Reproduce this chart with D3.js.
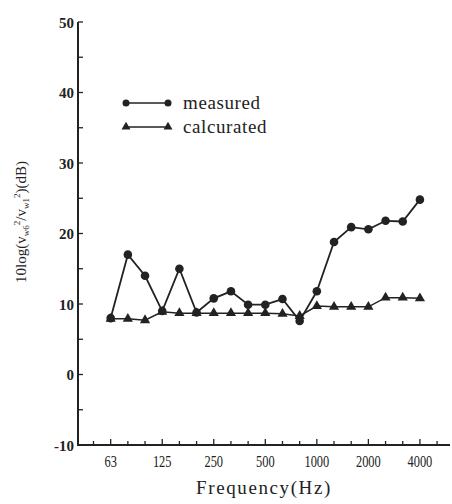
<!DOCTYPE html>
<html>
<head>
<meta charset="utf-8">
<script src="https://cdn.jsdelivr.net/npm/d3@7"></script>
<style>
  body { margin: 0; background: #fff; }
  text { font-family: "Liberation Serif", "DejaVu Serif", serif; fill: #222; }
</style>
</head>
<body>
<div id="chart"></div>
<script>
// third-octave bands shown on the axis
const bands = ["50", "63", "80", "100", "125", "160", "200", "250", "315", "400", "500",
  "630", "800", "1000", "1250", "1600", "2000", "2500", "3150", "4000", "5000"];
const tickLabels = ["63", "125", "250", "500", "1000", "2000", "4000"];
const pointBands = bands.slice(1, 20);
const measured = [8, 17, 14, 9, 15, 8.8, 10.8, 11.8, 9.9, 9.9, 10.7, 7.6, 11.8, 18.8, 20.9, 20.6, 21.8, 21.7, 24.8];
const calculated = [7.9, 7.9, 7.7, 8.9, 8.7, 8.7, 8.7, 8.7, 8.7, 8.7, 8.6, 8.3, 9.7, 9.6, 9.6, 9.6, 10.9, 10.9, 10.8];
const yTicks = [-10, 0, 10, 20, 30, 40, 50];
const legendNames = ["measured", "calcurated"];

const width = 452, height = 504;
const ink = "#222";

const svg = d3.select("#chart").append("svg")
    .attr("width", width)
    .attr("height", height);

const x = d3.scalePoint().domain(bands).range([93.5, 437.1]);
const y = d3.scaleLinear().domain([-10, 50]).range([445, 22]);
const x0 = 78;

// axes lines
svg.append("line").attr("x1", x0).attr("x2", x0).attr("y1", y(50)).attr("y2", y(-10) + 1)
    .attr("stroke", ink).attr("stroke-width", 2);
svg.append("line").attr("x1", x0 - 1).attr("x2", 450).attr("y1", y(-10)).attr("y2", y(-10))
    .attr("stroke", ink).attr("stroke-width", 2);

// y ticks every 5, labels every 10
svg.selectAll(".ytick").data(d3.range(-5, 51, 5)).join("line")
    .attr("x1", x0).attr("x2", x0 + 5)
    .attr("y1", d => y(d)).attr("y2", d => y(d))
    .attr("stroke", ink).attr("stroke-width", 1.3);
svg.selectAll(".ylab").data(yTicks).join("text")
    .attr("x", 74).attr("y", d => y(d) + 5.5)
    .attr("text-anchor", "end")
    .style("font-size", "15px").style("font-weight", "bold")
    .text(d => d);

// x ticks at every band, taller at labelled ones
svg.selectAll(".xtick").data(bands).join("line")
    .attr("x1", d => x(d)).attr("x2", d => x(d))
    .attr("y1", y(-10)).attr("y2", d => y(-10) - (tickLabels.includes(d) ? 6 : 4))
    .attr("stroke", ink).attr("stroke-width", 1.3);
svg.selectAll(".xlab").data(tickLabels).join("text")
    .attr("x", d => x(d) - d.length * 3.1).attr("y", 467)
    .attr("textLength", d => d.length * 6.2)
    .attr("lengthAdjust", "spacingAndGlyphs")
    .style("font-size", "16px")
    .text(d => d);

// axis titles
svg.append("text")
    .attr("x", 264).attr("y", 494)
    .attr("text-anchor", "middle")
    .style("font-size", "19px")
    .style("letter-spacing", "1.6px")
    .text("Frequency(Hz)");

const yt = svg.append("text")
    .attr("transform", "translate(26,222) rotate(-90)")
    .attr("text-anchor", "middle")
    .style("font-size", "15px");
yt.append("tspan").text("10log(v");
yt.append("tspan").attr("dy", 3).style("font-size", "9px").text("w6");
yt.append("tspan").attr("dy", -9).style("font-size", "9px").text("2");
yt.append("tspan").attr("dy", 6).text("/v");
yt.append("tspan").attr("dy", 3).style("font-size", "9px").text("w1");
yt.append("tspan").attr("dy", -9).style("font-size", "9px").text("2");
yt.append("tspan").attr("dy", 6).text(")(dB)");

// series
const line = d3.line().x((d, i) => x(pointBands[i])).y(d => y(d));
const tri = d3.symbol().type(d3.symbolTriangle).size(45);

svg.append("path").datum(calculated).attr("d", line)
    .attr("fill", "none").attr("stroke", ink).attr("stroke-width", 1.5);
svg.append("path").datum(measured).attr("d", line)
    .attr("fill", "none").attr("stroke", ink).attr("stroke-width", 1.8);

svg.selectAll(".tri").data(calculated).join("path")
    .attr("d", tri)
    .attr("transform", (d, i) => `translate(${x(pointBands[i])},${y(d)})`)
    .attr("fill", ink);
svg.selectAll(".dot").data(measured).join("circle")
    .attr("cx", (d, i) => x(pointBands[i])).attr("cy", d => y(d))
    .attr("r", 4.3).attr("fill", ink);

// legend
const lg = svg.append("g");
[103, 127].forEach((ly, k) => {
  lg.append("line").attr("x1", 126).attr("x2", 168).attr("y1", ly).attr("y2", ly)
      .attr("stroke", ink).attr("stroke-width", 1.3);
  [126, 168].forEach(lx => {
    if (k === 0) lg.append("circle").attr("cx", lx).attr("cy", ly).attr("r", 3.5).attr("fill", ink);
    else lg.append("path").attr("d", d3.symbol().type(d3.symbolTriangle).size(35))
        .attr("transform", `translate(${lx},${ly})`).attr("fill", ink);
  });
  lg.append("text").attr("x", 183).attr("y", ly + 6)
      .style("font-size", "19px").style("letter-spacing", "0.6px")
      .text(legendNames[k]);
});
</script>
</body>
</html>
